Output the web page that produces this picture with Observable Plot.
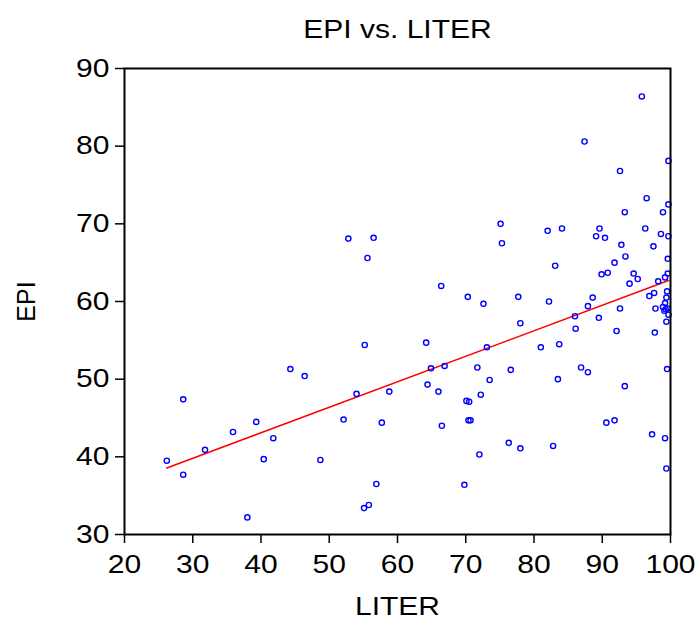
<!DOCTYPE html>
<html><head><meta charset="utf-8">
<script src="https://cdn.jsdelivr.net/npm/d3@7"></script>
<script src="https://cdn.jsdelivr.net/npm/@observablehq/plot@0.6"></script>
<style>
body{margin:0;background:#fff}
#chart svg{font-family:"Liberation Sans",Arial,sans-serif}
</style>
</head><body><div id="chart"></div>
<script>
const liter = [26.2,28.6,28.6,31.8,35.9,39.3,41.8,40.4,38.0,44.3,46.4,48.7,52.1,54.0,55.2,57.7,58.8,56.9,55.1,55.8,
  64.2,64.9,64.4,66.0,66.9,66.5,70.3,72.6,73.1,71.7,73.5,72.2,70.1,70.5,70.4,70.7,72.0,69.8,77.7,82.2,
  78.0,76.6,81.0,83.7,83.5,86.9,87.9,86.0,86.1,87.9,88.6,89.5,92.6,92.1,93.3,90.6,91.8,76.3,78.0,82.8,
  97.3,99.2,99.4,99.5,97.7,96.9,97.6,97.8,99.2,98.9,99.3,99.1,99.6,99.7,99.4,99.5,99.4,95.8,87.4,99.7,
  92.6,96.5,99.7,98.9,93.3,75.1,75.3,82.0,84.1,89.6,89.1,90.4,96.3,98.6,99.7,92.8,97.5,93.4,99.6,91.8,
  83.1,94.6,95.2,94.0,89.9,90.8,99.6,99.2,98.2,52.8,56.5,55.6,66.4];
const epi = [39.5,47.4,37.7,40.9,43.2,44.5,42.4,39.7,32.2,51.3,50.4,39.6,44.8,48.1,54.4,44.4,48.4,36.5,33.4,33.8,
  54.7,51.4,49.3,48.4,51.7,44.0,60.6,59.7,54.1,51.5,49.9,48.0,47.2,47.1,44.7,44.7,40.3,36.4,60.6,60.0,
  57.2,51.2,54.1,54.5,50.0,51.5,50.9,58.1,56.5,59.4,60.5,57.9,59.1,56.2,49.1,44.4,44.7,41.8,41.1,41.4,
  42.9,42.4,38.5,51.3,56.0,60.7,61.1,59.1,59.8,59.3,59.0,58.8,59.1,58.3,57.4,61.3,60.5,86.4,80.6,78.1,
  76.8,73.3,72.5,71.5,71.5,70.0,67.5,69.1,69.4,69.4,68.4,68.2,69.4,68.7,68.4,67.3,67.1,65.8,65.5,65.0,
  64.6,63.6,62.9,62.3,63.5,63.7,63.6,63.1,62.6,68.1,68.2,65.6,62.0];
const xTicks = [20,30,40,50,60,70,80,90,100];
const yTicks = [30,40,50,60,70,80,90];
const title = "EPI vs. LITER";
const xLabel = "LITER";
const yLabel = "EPI";

const data = liter.map((x,i)=>({liter:x, epi:epi[i]}));

const chart = Plot.plot({
  width:697, height:621,
  marginLeft:124, marginRight:27, marginTop:68, marginBottom:87,
  style:{fontFamily:'"Liberation Sans",Arial,sans-serif', fontSize:"25px", background:"white", color:"black"},
  x:{domain:[20,100]},
  y:{domain:[30,90]},
  marks:[
    Plot.axisX(xTicks,{tickSize:9, tickPadding:12, fontSize:25, strokeWidth:1.5, label:xLabel, labelAnchor:"center", labelOffset:80, labelArrow:"none"}),
    Plot.axisY(yTicks,{tickSize:9, tickPadding:6, fontSize:25, strokeWidth:1.5, label:yLabel, labelAnchor:"center", labelOffset:107, labelArrow:"none"}),
    Plot.linearRegressionY(data,{x:"liter", y:"epi", stroke:"red", strokeWidth:1.6, ci:0}),
    Plot.dot(data,{x:"liter", y:"epi", r:2.6, stroke:"blue", strokeWidth:1.4, fill:"none"}),
    Plot.frame({stroke:"black", strokeWidth:2}),
    Plot.text([title],{frameAnchor:"top", dy:-48, fontSize:25})
  ]
});
document.getElementById("chart").appendChild(chart);
// reference text is rendered horizontally wider: stretch horizontal texts
chart.querySelectorAll("text").forEach(t=>{
  const tr = (t.getAttribute("transform")||"") + (t.parentNode.getAttribute("transform")||"");
  if (/rotate/.test(tr)) return;
  const len = t.getComputedTextLength();
  if (len>0){ t.setAttribute("textLength", (len*1.2).toFixed(1)); t.setAttribute("lengthAdjust","spacingAndGlyphs"); }
});
</script>
</body></html>
